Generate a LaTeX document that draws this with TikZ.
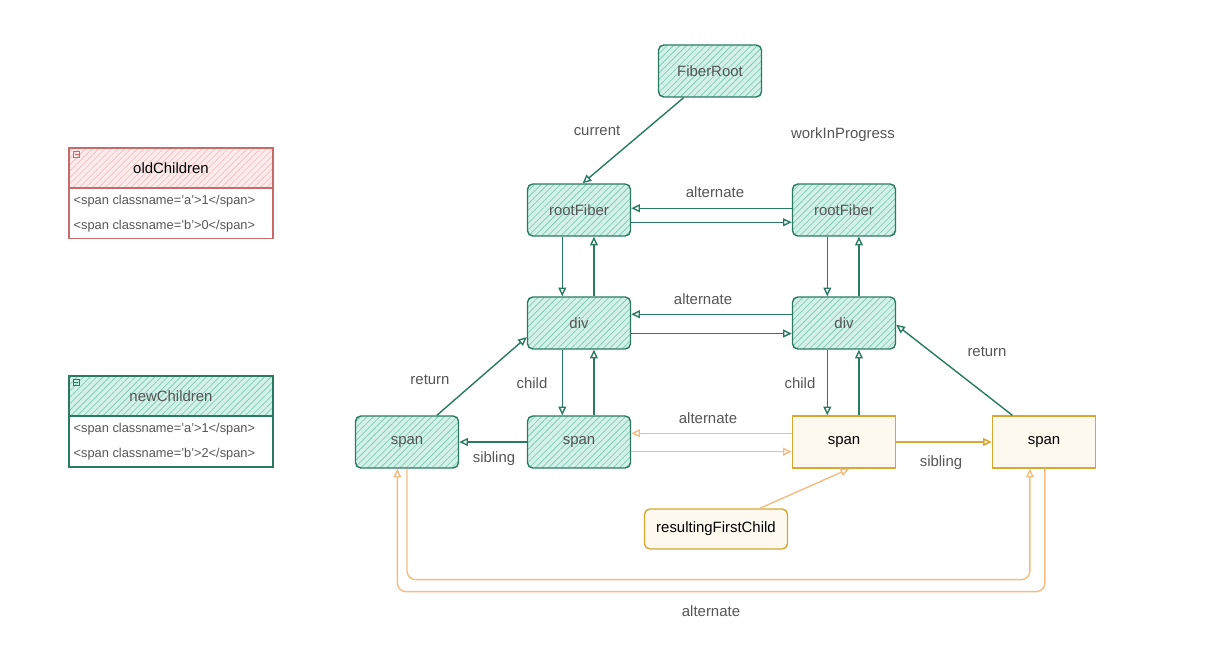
\documentclass[tikz,border=0pt]{standalone}
\usepackage{fontspec}
\setmainfont{Liberation Sans}
\usetikzlibrary{arrows.meta,positioning,calc,patterns.meta}
\definecolor{tealline}{HTML}{2A7A62}
\definecolor{tealfill}{HTML}{D3F1E8}
\definecolor{tealhatch}{HTML}{86CDB8}
\definecolor{goldline}{HTML}{D8A831}
\definecolor{goldfill}{HTML}{FDF9EF}
\definecolor{orangeline}{HTML}{F5BC82}
\definecolor{redline}{HTML}{C76A6A}
\definecolor{redfill}{HTML}{FCEBEB}
\definecolor{redhatch}{HTML}{F2C4C4}
\definecolor{labelgrey}{HTML}{555555}
\begin{document}
\begin{tikzpicture}[x=0.02cm,y=-0.02cm,>={Triangle[open,length=5pt,width=4.5pt]}]
\tikzset{
  fiber/.style={draw=tealline,line width=0.8pt,rounded corners=3pt,minimum width=2.06cm,minimum height=1.04cm,
    preaction={fill=tealfill},pattern={Lines[angle=45,distance=2.6pt,line width=0.45pt]},pattern color=tealhatch,
    text=labelgrey,font=\fontsize{8.5}{10}\selectfont},
  newfiber/.style={draw=goldline,line width=0.8pt,fill=goldfill,minimum width=2.06cm,minimum height=1.04cm,
    font=\fontsize{8.5}{10}\selectfont},
  lbl/.style={text=labelgrey,font=\fontsize{8.5}{10}\selectfont},
  tealarr/.style={->,draw=tealline,line width=0.8pt},
  orangearr/.style={->,draw=orangeline,line width=0.8pt},
  goldarr/.style={->,draw=goldline,line width=0.9pt},
  tablehead/.style={line width=0.8pt,minimum width=4.08cm,minimum height=0.8cm,font=\fontsize{8.5}{10}\selectfont},
  tablebody/.style={line width=0.8pt,minimum width=4.08cm,minimum height=1.02cm},
  row/.style={anchor=west,inner sep=0pt,text=labelgrey,font=\fontsize{7.3}{9}\selectfont}
}
\useasboundingbox (0,0) rectangle (1208,648);

% children lists
\node[tablehead,draw=redline,preaction={fill=redfill},pattern={Lines[angle=45,distance=2.6pt,line width=0.45pt]},pattern color=redhatch] (oldHead) at (171,168) {oldChildren};
\node[tablebody,draw=redline,below=-0.8pt of oldHead] (oldBody) {};
\node[row] (oldA) at ($(oldBody.west)+(5,-12)$) {<span classname='a'>1</span>};
\node[row] (oldB) at ($(oldBody.west)+(5,13)$) {<span classname='b'>0</span>};
\draw[redline,line width=0.4pt] ($(oldHead.north west)+(5,4)$) rectangle ++(6,6) ++(-5,-3) -- ++(4,0);

\node[tablehead,draw=tealline,text=labelgrey,preaction={fill=tealfill},pattern={Lines[angle=45,distance=2.6pt,line width=0.45pt]},pattern color=tealhatch] (newHead) at (171,396) {newChildren};
\node[tablebody,draw=tealline,below=-0.8pt of newHead] (newBody) {};
\node[row] (newA) at ($(newBody.west)+(5,-12)$) {<span classname='a'>1</span>};
\node[row] (newB) at ($(newBody.west)+(5,13)$) {<span classname='b'>2</span>};
\draw[tealline,line width=0.4pt] ($(newHead.north west)+(5,4)$) rectangle ++(6,6) ++(-5,-3) -- ++(4,0);

% current tree
\node[fiber] (fiberRoot) at (710,71) {FiberRoot};
\node[fiber] (rootCur) at (579,210) {rootFiber};
\node[fiber] (divCur) at (579,323) {div};
\node[fiber] (spanA) at (407,442) {span};
\node[fiber] (spanB) at (579,442) {span};

% workInProgress tree
\node[fiber] (rootWip) at (844,210) {rootFiber};
\node[fiber] (divWip) at (844,323) {div};
\node[newfiber] (spanC) at (844,442) {span};
\node[newfiber] (spanD) at (1044,442) {span};
\node[draw=goldline,line width=0.8pt,fill=goldfill,rounded corners=3pt,minimum width=2.86cm,minimum height=0.8cm,
  font=\fontsize{8.5}{10}\selectfont] (firstChild) at (716,529) {resultingFirstChild};

% labels
\node[lbl] (lblCurrent) at (597,131) {current};
\node[lbl] (lblWip) at (843,135) {workInProgress};
\node[lbl] (lblAltRoot) at (715,192) {alternate};
\node[lbl] (lblAltDiv) at (703,299) {alternate};
\node[lbl] (lblAltSpan) at (708,418) {alternate};
\node[lbl] (lblAltBottom) at (711,611) {alternate};
\node[lbl] (lblReturnL) at (430,380) {return};
\node[lbl] (lblReturnR) at (987,352) {return};
\node[lbl] (lblChildL) at (532,383) {child};
\node[lbl] (lblChildR) at (800,383) {child};
\node[lbl] (lblSiblingL) at (494,459) {sibling};
\node[lbl] (lblSiblingR) at (941,463) {sibling};

% connectors
\draw[tealarr] ([xshift=-15pt]fiberRoot.south) -> ([xshift=2pt]rootCur.north);
\draw[tealarr] ([yshift=1pt]rootWip.west) -> ([yshift=1pt]rootCur.west -| rootCur.east);
\draw[tealarr] ([yshift=-7pt]rootCur.east) -> ([yshift=-7pt]rootWip.west);
\draw[tealarr] ([yshift=5pt]divWip.west) -> ([yshift=5pt]divCur.east);
\draw[tealarr] ([yshift=-6pt]divCur.east) -> ([yshift=-6pt]divWip.west);
\foreach \top/\bot in {rootCur/divCur,divCur/spanB,rootWip/divWip,divWip/spanC}{
  \draw[tealarr] ([xshift=-9.5pt]\top.south) -> ([xshift=-9.5pt]\bot.north);
  \draw[tealarr] ([xshift=8.5pt]\bot.north) -> ([xshift=8.5pt]\top.south);
}
\draw[tealarr] ([xshift=17pt]spanA.north) -> ([yshift=-8pt]divCur.west);
\draw[tealarr] (spanB.west) -> (spanA.east);
\draw[tealarr] ([xshift=-18pt]spanD.north) -> ([yshift=-1pt]divWip.east);
\draw[orangearr] ([yshift=5pt]spanC.west) -> ([yshift=5pt]spanB.east);
\draw[orangearr] ([yshift=-5.5pt]spanB.east) -> ([yshift=-5.5pt]spanC.west);
\draw[goldarr] (spanC.east) -> (spanD.west);
\draw[orangearr] ([xshift=25pt]firstChild.north) -> ([xshift=3pt]spanC.south);
\draw[orangearr,rounded corners=5pt] (spanA.south) -- ++(0,111) -| ([xshift=-8pt]spanD.south);
\draw[orangearr,rounded corners=5pt] ([xshift=0.5pt]spanD.south) -- ++(0,123) -| ([xshift=-5.5pt]spanA.south);
\end{tikzpicture}
\end{document}
